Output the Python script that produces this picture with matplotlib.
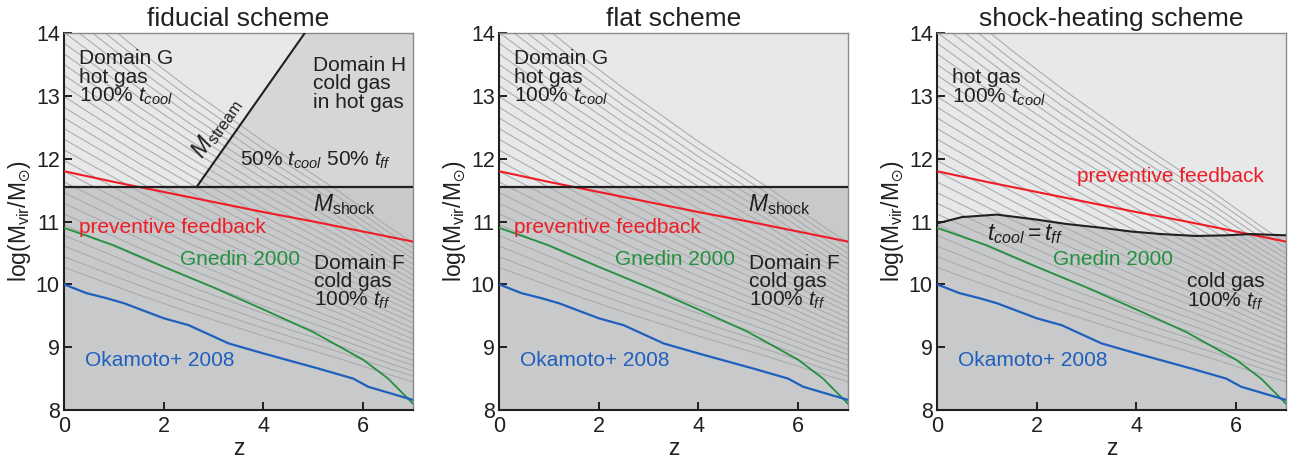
import numpy as np
import matplotlib
matplotlib.use("Agg")
import matplotlib.pyplot as plt

plt.rcParams['font.family'] = ['Liberation Sans', 'DejaVu Sans']
plt.rcParams['mathtext.fontset'] = 'custom'
plt.rcParams['mathtext.rm'] = 'Liberation Sans'
plt.rcParams['mathtext.it'] = 'Liberation Sans:italic'
plt.rcParams['mathtext.fallback'] = 'stixsans'

# halo growth tracks: mass at z=0 and at z=7, common shape in between
track_m0 = [14.69, 14.52, 14.35, 14.18, 14.01, 13.84, 13.67, 13.50, 13.33,
            13.16, 12.99, 12.82, 12.65, 12.48, 12.31, 12.14, 11.97, 11.80,
            11.63, 11.46, 11.29, 11.12, 10.95, 10.78, 10.61, 10.44, 10.27]
track_m7 = [10.66, 10.58, 10.49, 10.41, 10.32, 10.24, 10.15, 10.07, 9.98,
            9.90, 9.81, 9.73, 9.64, 9.56, 9.47, 9.39, 9.30, 9.22,
            9.13, 9.05, 8.96, 8.88, 8.79, 8.71, 8.62, 8.54, 8.45]
track_z = [0, 0.5, 1, 1.5, 2, 2.5, 3, 3.5, 4, 4.5, 5, 5.5, 6, 6.5, 7]
track_frac = [0, 0.08, 0.16, 0.24, 0.315, 0.39, 0.46, 0.53, 0.60,
              0.665, 0.73, 0.795, 0.865, 0.935, 1.0]

# preventive feedback
pf_z = [0, 1, 2, 3, 4, 5, 6, 7]
pf_m = [11.80, 11.63, 11.47, 11.31, 11.15, 11.00, 10.84, 10.68]

# Gnedin 2000
gn_z = [0, 1, 2, 3, 4, 5, 6, 6.5, 7]
gn_m = [10.90, 10.62, 10.28, 9.95, 9.60, 9.24, 8.80, 8.50, 8.10]

# Okamoto+ 2008
ok_z = [0, 0.45, 0.85, 1.2, 2.0, 2.5, 3.3, 4.0, 5.1, 5.8, 6.1, 7]
ok_m = [10.00, 9.86, 9.78, 9.70, 9.46, 9.35, 9.06, 8.90, 8.66, 8.50, 8.37, 8.16]

# shock mass and cold stream boundary
m_shock = 11.55
stream_z = [2.66, 4.83]
stream_m = [11.55, 14.0]

# t_cool = t_ff boundary
tc_z = [0, 0.5, 1.2, 2.0, 2.6, 3.3, 3.9, 4.5, 5.2, 5.8, 6.3, 7]
tc_m = [10.97, 11.07, 11.11, 11.03, 10.96, 10.90, 10.84, 10.80, 10.77, 10.78, 10.80, 10.78]

titles = ["fiducial scheme", "flat scheme", "shock-heating scheme"]

c_light = '#e7e8ea'
c_mid = '#d5d6d8'
c_dark = '#c8c9cb'
c_red = '#ee1d25'
c_green = '#24903f'
c_blue = '#1f5fbd'
c_text = '#231f20'

fig = plt.figure(figsize=(12.91, 4.65), dpi=100)
lefts = [64, 499, 937]
axes = [fig.add_axes([l / 1291, 1 - 410 / 465, 349 / 1291, 377 / 465]) for l in lefts]

tz = np.array(track_z)
tf = np.array(track_frac)

for i, ax in enumerate(axes):
    ax.set_xlim(0, 7)
    ax.set_ylim(8, 14)
    ax.set_facecolor(c_light)

    # background domains
    if i < 2:
        ax.axhspan(8, m_shock, color=c_dark, lw=0, zorder=0)
    else:
        ax.fill_between(tc_z, 8, tc_m, color=c_dark, lw=0, zorder=0)
    if i == 0:
        ax.fill([stream_z[0], stream_z[1], 7, 7],
                [stream_m[0], stream_m[1], 14, m_shock],
                color=c_mid, lw=0, zorder=0)

    # halo tracks
    for m0, m7 in zip(track_m0, track_m7):
        ax.plot(tz, m0 - (m0 - m7) * tf, color='#a9aaac', lw=0.75, zorder=1)

    ax.plot(pf_z, pf_m, color=c_red, lw=1.5, zorder=3)
    ax.plot(gn_z, gn_m, color=c_green, lw=1.3, zorder=3)
    ax.plot(ok_z, ok_m, color=c_blue, lw=1.6, zorder=3)

    if i < 2:
        ax.axhline(m_shock, color=c_text, lw=1.6, zorder=3)
    else:
        ax.plot(tc_z, tc_m, color=c_text, lw=1.5, zorder=3)
    if i == 0:
        ax.plot(stream_z, stream_m, color=c_text, lw=1.5, zorder=3)

    fs = 15
    kw = dict(fontsize=fs, color=c_text, zorder=4, linespacing=0.95)
    mk = dict(fontsize=16.5, color=c_text, zorder=4)
    if i < 2:
        ax.text(0.31, 13.74, "Domain G\nhot gas\n100% $t_{cool}$", va='top', **kw)
        ax.text(5.62, 11.27, r"$M_{\rm shock}$", ha='center', va='center', **mk)
        ax.text(5.02, 10.49, "Domain F\ncold gas\n100% $t_{ff}$", va='top', **kw)
        ax.text(0.31, 10.9, "preventive feedback", color=c_red, fontsize=fs,
                va='center', zorder=4)
    else:
        ax.text(0.31, 13.44, "hot gas\n100% $t_{cool}$", va='top', **kw)
        ax.text(1.0, 10.8, "$t_{cool} = t_{ff}$", va='center', **mk)
        ax.text(5.02, 10.19, "cold gas\n100% $t_{ff}$", va='top', **kw)
        ax.text(2.8, 11.71, "preventive feedback", color=c_red, fontsize=fs,
                va='center', zorder=4)
    if i == 0:
        ax.text(4.99, 13.63, "Domain H\ncold gas\nin hot gas", va='top', **kw)
        ax.text(3.53, 11.97, "50% $t_{cool}$ 50% $t_{ff}$", va='center', **kw)
        ax.text(3.05, 12.5, r"$M_{\rm stream}$", rotation=55, ha='center',
                va='center', **mk)
    ax.text(2.32, 10.4, "Gnedin 2000", color=c_green, fontsize=fs,
            va='center', zorder=4)
    ax.text(0.42, 8.79, "Okamoto+ 2008", color=c_blue, fontsize=fs,
            va='center', zorder=4)

    ax.set_xticks([0, 2, 4, 6])
    ax.set_yticks([8, 9, 10, 11, 12, 13, 14])
    ax.tick_params(direction='in', length=6, width=1.4, labelsize=15.5,
                   colors=c_text, pad=3)
    ax.tick_params(axis='x', pad=4)
    for side in ['left', 'bottom']:
        ax.spines[side].set_color(c_text)
        ax.spines[side].set_linewidth(1.5)
    for side in ['top', 'right']:
        ax.spines[side].set_color('#8a8a8a')
        ax.spines[side].set_linewidth(1.0)
    ax.set_xlabel("z", fontsize=16.5, color=c_text, labelpad=0)
    ax.set_ylabel(r"log(M$_{\rm vir}$/M$_{\odot}$)", fontsize=16.5,
                  color=c_text, labelpad=2)
    ax.set_title(titles[i], fontsize=19, color=c_text, pad=5)

fig.savefig("out.png", dpi=100)
